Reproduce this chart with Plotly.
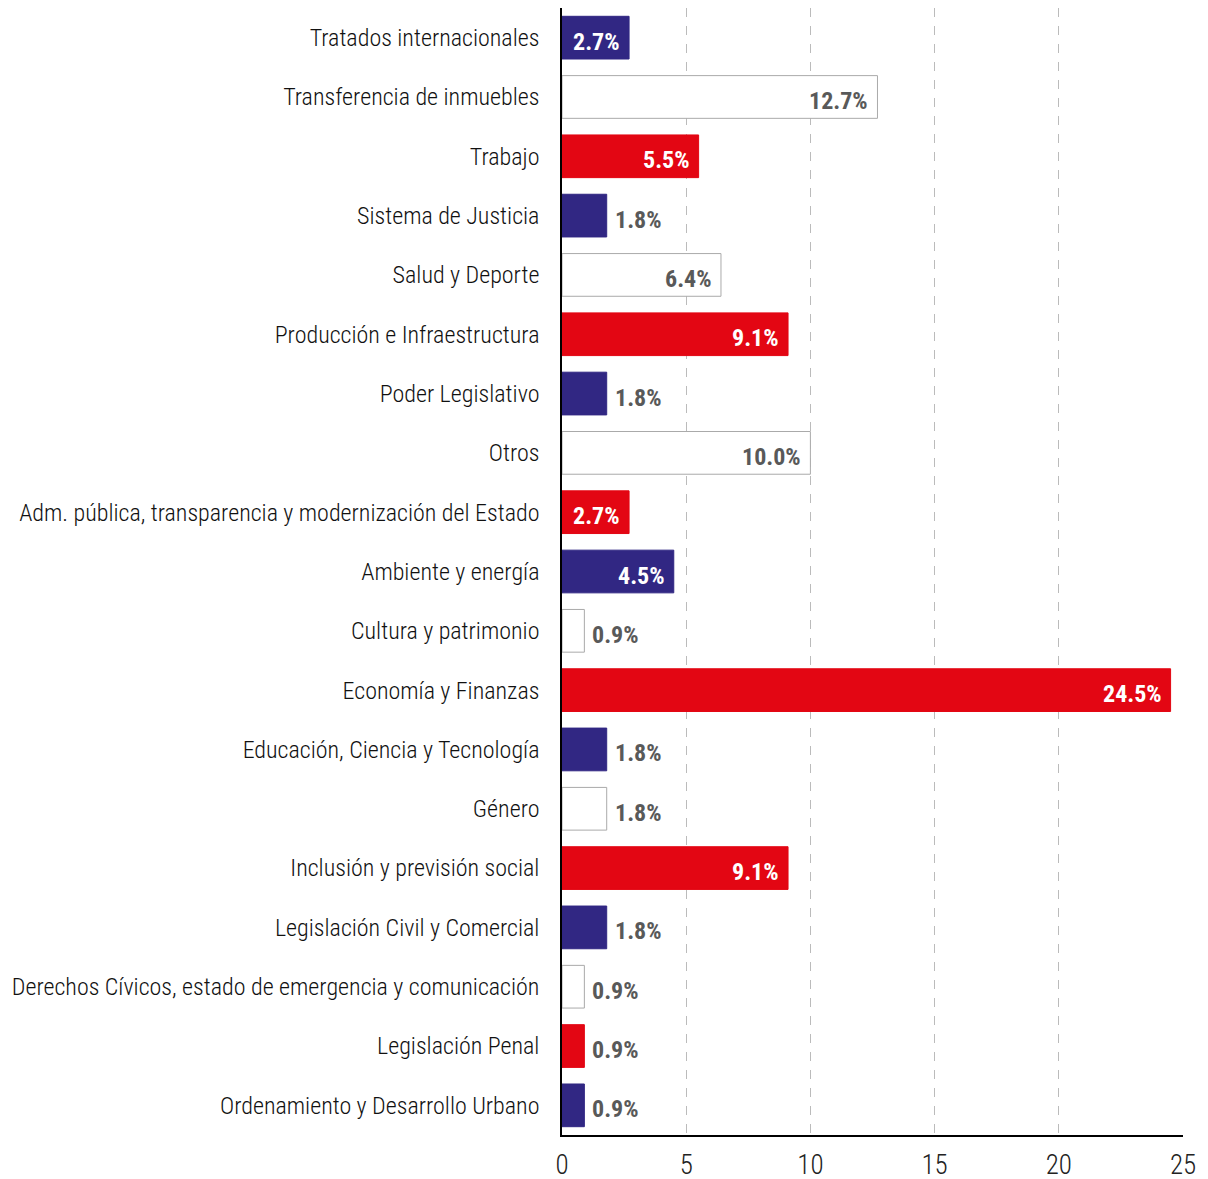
import plotly.graph_objects as go

categories = [
    "Tratados internacionales",
    "Transferencia de inmuebles",
    "Trabajo",
    "Sistema de Justicia",
    "Salud y Deporte",
    "Producción e Infraestructura",
    "Poder Legislativo",
    "Otros",
    "Adm. pública, transparencia y modernización del Estado",
    "Ambiente y energía",
    "Cultura y patrimonio",
    "Economía y Finanzas",
    "Educación, Ciencia y Tecnología",
    "Género",
    "Inclusión y previsión social",
    "Legislación Civil y Comercial",
    "Derechos Cívicos, estado de emergencia y comunicación",
    "Legislación Penal",
    "Ordenamiento y Desarrollo Urbano",
]
values = [2.7, 12.7, 5.5, 1.8, 6.4, 9.1, 1.8, 10.0, 2.7, 4.5, 0.9, 24.5, 1.8, 1.8, 9.1, 1.8, 0.9, 0.9, 0.9]
x_ticks = [0, 5, 10, 15, 20, 25]

NAVY = "#312783"
RED = "#E30613"
WHITE = "#FFFFFF"
GREY_TXT = "#595959"
palette = [NAVY, WHITE, RED]

colors = [palette[i % 3] for i in range(len(values))]
line_colors = ["#AAAAAA" if c == WHITE else c for c in colors]
inside = [v >= 2.5 for v in values]
labels = [f"{v:.1f}%" for v in values]

FONT = "Roboto Condensed, Liberation Sans Narrow, Roboto, sans-serif"

fig = go.Figure(go.Bar(
    x=values,
    y=categories,
    orientation="h",
    marker=dict(color=colors, line=dict(color=line_colors, width=1)),
    width=0.72,
    hoverinfo="x+y",
))

for cat, v, c, ins, lab in zip(categories, values, colors, inside, labels):
    if ins:
        col = WHITE if c != WHITE else GREY_TXT
        fig.add_annotation(x=v, y=cat, text=lab, showarrow=False, xanchor="right",
                           xshift=-7, yshift=-4,
                           font=dict(family=FONT, size=24, color=col, weight="bold"))
    else:
        fig.add_annotation(x=v, y=cat, text=lab, showarrow=False, xanchor="left",
                           xshift=6, yshift=-4,
                           font=dict(family=FONT, size=24, color=GREY_TXT, weight="bold"))

fig.update_layout(
    width=1208, height=1179,
    margin=dict(l=554, r=33, t=0, b=52),
    plot_bgcolor="white", paper_bgcolor="white",
    showlegend=False,
    font=dict(family=FONT, color="#111111"),
)
fig.update_xaxes(
    range=[0, 25], tickvals=x_ticks, ticktext=[str(t) for t in x_ticks],
    showgrid=True, gridcolor="#BBBBBB", griddash="dash", gridwidth=1,
    showline=True, linecolor="black", linewidth=1.5,
    zeroline=False, ticks="", automargin=False, ticklabelstandoff=5,
    tickfont=dict(size=27, family=FONT, color="#222222", weight=300),
)
fig.update_yaxes(
    autorange="reversed", showgrid=False, showline=True, linecolor="black", linewidth=1.5,
    ticks="", ticklabelstandoff=16, automargin=False,
    tickfont=dict(size=24, family=FONT, color="#111111", weight=300),
)

fig.write_html("out.html")
